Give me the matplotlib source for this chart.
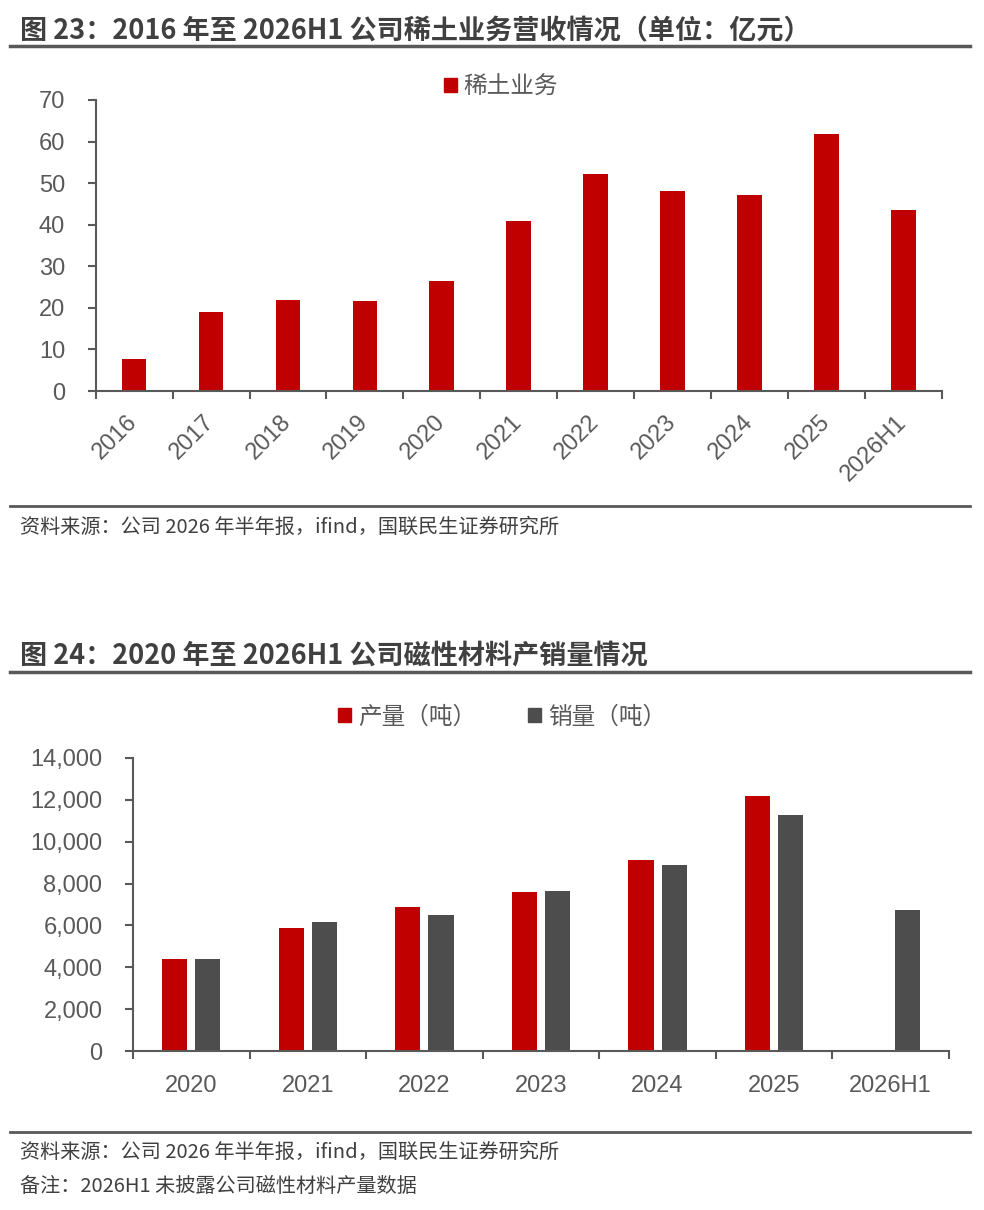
import numpy as np
import matplotlib
matplotlib.use("Agg")
import matplotlib.pyplot as plt
from matplotlib.patches import Patch
from matplotlib.lines import Line2D

plt.rcParams['font.family'] = ['Noto Sans CJK SC', 'DejaVu Sans']

# data
years_re = ['2016', '2017', '2018', '2019', '2020', '2021', '2022', '2023', '2024', '2025', '2026H1']
rare_earth = [7.7, 18.9, 22.0, 21.7, 26.5, 40.8, 52.1, 48.1, 47.2, 61.9, 43.5]

years_mag = ['2020', '2021', '2022', '2023', '2024', '2025', '2026H1']
production = [4390, 5900, 6900, 7590, 9120, 12200, np.nan]
sales = [4390, 6140, 6510, 7660, 8880, 11280, 6730]

RED = '#C00000'
GREY = '#4D4D4D'
AX = '#595959'
TXT = '#404040'
NUM_FONT = 'Liberation Sans'

W, H = 984, 1210
fig = plt.figure(figsize=(W / 100, H / 100), dpi=100)


def px(x0, y0, x1, y1):
    return [x0 / W, 1 - y1 / H, (x1 - x0) / W, (y1 - y0) / H]


def hline(y, lw):
    fig.add_artist(Line2D([10 / W, 970 / W], [1 - y / H, 1 - y / H], color='#595959', lw=lw,
                          transform=fig.transFigure))


def style(ax, n):
    for s in ['top', 'right']:
        ax.spines[s].set_visible(False)
    for s in ['left', 'bottom']:
        ax.spines[s].set_color(AX)
        ax.spines[s].set_linewidth(1.5)
    ax.set_xlim(-0.5, n - 0.5)
    ax.set_xticks(np.arange(n))
    ax.set_xticks(np.arange(n + 1) - 0.5, minor=True)
    ax.tick_params(axis='x', which='major', length=0)
    ax.tick_params(axis='x', which='minor', length=6, width=1.5, color=AX, direction='out')
    ax.tick_params(axis='y', length=6, width=1.5, color=AX, pad=16)


def num_labels(labels, **kw):
    for t in labels:
        t.set_fontfamily(NUM_FONT)
        t.set_fontsize(17)
        t.set_color(AX)
        for k, v in kw.items():
            getattr(t, 'set_' + k)(v)


# ---- chart 1
fig.text(20 / W, 1 - 31 / H, '图 23：2016 年至 2026H1 公司稀土业务营收情况（单位：亿元）',
         fontsize=19.5, fontweight='bold', color=TXT, va='center')
hline(46, 2.5)

ax1 = fig.add_axes(px(95.7, 100, 941.7, 391))
x1 = np.arange(len(years_re))
ax1.bar(x1, rare_earth, width=0.32, color=RED)
style(ax1, len(years_re))
ax1.set_ylim(0, 70)
ax1.set_yticks(range(0, 71, 10))
ax1.set_xticklabels(years_re)
ax1.tick_params(axis='x', which='major', pad=20)
num_labels(ax1.get_yticklabels())
num_labels(ax1.get_xticklabels(), rotation=45, ha='right', va='center', rotation_mode='anchor')
fig.legend(handles=[Patch(color=RED, label='稀土业务')], loc='center',
           bbox_to_anchor=(501 / W, 1 - 87 / H), frameon=False, fontsize=17,
           handlelength=0.55, handleheight=0.55, handletextpad=0.3, labelcolor=AX)

hline(506, 2)
fig.text(20 / W, 1 - 527 / H, '资料来源：公司 2026 年半年报，ifind，国联民生证券研究所',
         fontsize=14.5, color=TXT, va='center')

# ---- chart 2
fig.text(20 / W, 1 - 655 / H, '图 24：2020 年至 2026H1 公司磁性材料产销量情况',
         fontsize=19.5, fontweight='bold', color=TXT, va='center')
hline(672, 2.5)

ax2 = fig.add_axes(px(133, 758, 949, 1051))
x2 = np.arange(len(years_mag))
prod = np.array(production, dtype=float)
ok = ~np.isnan(prod)
ax2.bar(x2[ok] - 0.142, prod[ok], width=0.215, color=RED)
ax2.bar(x2 + 0.142, sales, width=0.215, color=GREY)
style(ax2, len(years_mag))
ax2.set_ylim(0, 14000)
ax2.set_yticks(range(0, 14001, 2000))
ax2.set_yticklabels([f'{v:,}' for v in range(0, 14001, 2000)])
ax2.set_xticklabels(years_mag)
ax2.tick_params(axis='x', which='major', pad=17)
num_labels(ax2.get_yticklabels())
num_labels(ax2.get_xticklabels())
fig.legend(handles=[Patch(color=RED, label='产量（吨）'), Patch(color=GREY, label='销量（吨）')],
           loc='center', bbox_to_anchor=(502 / W, 1 - 717 / H), ncol=2, frameon=False,
           fontsize=17, handlelength=0.55, handleheight=0.55, handletextpad=0.3,
           columnspacing=2.2, labelcolor=AX)

hline(1132, 2)
fig.text(20 / W, 1 - 1152 / H, '资料来源：公司 2026 年半年报，ifind，国联民生证券研究所',
         fontsize=14.5, color=TXT, va='center')
fig.text(20 / W, 1 - 1186 / H, '备注：2026H1 未披露公司磁性材料产量数据',
         fontsize=14.5, color=TXT, va='center')

fig.savefig('out.png', dpi=100, facecolor='white')
